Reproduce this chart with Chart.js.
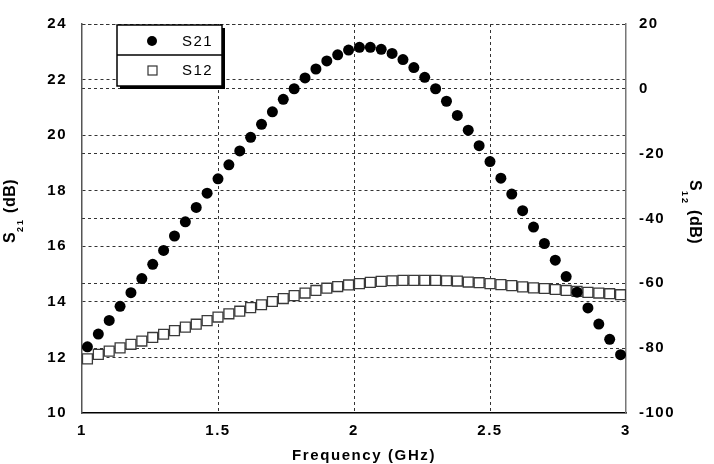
<!DOCTYPE html>
<html><head><meta charset="utf-8">
<script src="https://cdn.jsdelivr.net/npm/chart.js@4/dist/chart.umd.min.js"></script>
<style>html,body{margin:0;padding:0;background:#fff}#wrap{width:714px;height:464px;position:relative}</style>
</head><body><div id="wrap"><canvas id="c" width="714" height="464"></canvas></div>
<script>
const freq = [1.02,1.06,1.10,1.14,1.18,1.22,1.26,1.30,1.34,1.38,1.42,1.46,1.50,1.54,1.58,1.62,1.66,1.70,1.74,1.78,1.82,1.86,1.90,1.94,1.98,2.02,2.06,2.10,2.14,2.18,2.22,2.26,2.30,2.34,2.38,2.42,2.46,2.50,2.54,2.58,2.62,2.66,2.70,2.74,2.78,2.82,2.86,2.90,2.94,2.98];
const s21 = [12.38,12.84,13.33,13.84,14.33,14.84,15.35,15.85,16.37,16.88,17.40,17.91,18.43,18.93,19.43,19.92,20.39,20.84,21.29,21.67,22.06,22.38,22.67,22.89,23.06,23.16,23.16,23.09,22.94,22.72,22.43,22.08,21.67,21.22,20.71,20.18,19.62,19.05,18.45,17.88,17.28,16.69,16.10,15.50,14.91,14.35,13.78,13.20,12.65,12.10];
const s12 = [-83.3,-81.9,-80.9,-79.9,-78.8,-77.8,-76.7,-75.7,-74.6,-73.5,-72.6,-71.5,-70.4,-69.4,-68.6,-67.5,-66.6,-65.6,-64.7,-63.8,-63.0,-62.2,-61.5,-61.0,-60.5,-60.1,-59.7,-59.4,-59.2,-59.1,-59.1,-59.1,-59.1,-59.2,-59.3,-59.6,-59.8,-60.1,-60.4,-60.7,-61.1,-61.4,-61.6,-61.9,-62.2,-62.5,-62.8,-63.0,-63.2,-63.5];
const xTicks = [1,1.5,2,2.5,3];
const xTickLabels = ['1','1.5','2','2.5','3'];
const yTicks = [10,12,14,16,18,20,22,24];
const y2Ticks = [-100,-80,-60,-40,-20,0,20];
const seriesNames = ['S21','S12'];

const FONT = "'Liberation Sans', Arial, sans-serif";
const gridColor = (first,last)=>ctx=>{
  const i = ctx.index, n = ctx.scale.ticks.length;
  if ((first && i===0) || (last && i===n-1)) return 'rgba(0,0,0,0)';
  return '#333';
};

const spacingPlugin = {
  id:'spacing',
  beforeLayout(chart){ chart.ctx.letterSpacing='1.5px'; },
  beforeDraw(chart){ chart.ctx.letterSpacing='1.5px'; },
  beforeDatasetsDraw(chart){ chart.ctx.letterSpacing='0px'; },
  afterDatasetsDraw(chart){ chart.ctx.letterSpacing='1.5px'; }
};

function drawSubTitle(ctx, main, sub, rest, cx, cy, angle, baseOff){
  ctx.save();
  ctx.translate(cx, cy);
  ctx.rotate(angle);
  ctx.fillStyle='#000';
  ctx.textBaseline='alphabetic';
  ctx.textAlign='left';
  ctx.letterSpacing='0.5px';
  const f1 = "bold 16px "+FONT, f2 = "bold 9px "+FONT;
  ctx.font=f1; const w1 = ctx.measureText(main).width;
  ctx.letterSpacing='2px';
  ctx.font=f2; const w2 = ctx.measureText(sub).width;
  ctx.letterSpacing='0.5px';
  ctx.font=f1; const w3 = ctx.measureText(rest).width;
  let x = -(w1+w2+w3)/2;
  ctx.font=f1; ctx.fillText(main, x, 0); x+=w1;
  ctx.letterSpacing='2px';
  ctx.font=f2; ctx.fillText(sub, x, baseOff); x+=w2;
  ctx.letterSpacing='0.5px';
  ctx.font=f1; ctx.fillText(rest, x, 0);
  ctx.restore();
}

const decoPlugin = {
  id:'deco',
  afterDraw(chart){
    const ctx = chart.ctx;
    // axis titles
    drawSubTitle(ctx,'S','21',' (dB)', 15, 211, -Math.PI/2, 8);
    drawSubTitle(ctx,'S','12',' (dB)', 690, 212, Math.PI/2, 8);
    ctx.save();
    ctx.font = "bold 15px "+FONT;
    ctx.letterSpacing='1.6px';
    ctx.fillStyle='#000';
    ctx.textAlign='center';
    ctx.textBaseline='alphabetic';
    ctx.fillText('Frequency (GHz)', 364, 460);
    ctx.restore();
    // legend box
    const L=117, T=25, W=105, H=61, mid=55;
    ctx.save();
    ctx.letterSpacing='0px';
    ctx.fillStyle='#000';
    ctx.fillRect(L+3, T+3, W, H);
    ctx.fillStyle='#fff';
    ctx.fillRect(L, T, W, H);
    ctx.strokeStyle='#000'; ctx.lineWidth=1.5;
    ctx.strokeRect(L, T, W, H);
    ctx.beginPath(); ctx.moveTo(L, mid); ctx.lineTo(L+W, mid); ctx.stroke();
    const ds = chart.data.datasets;
    // marker 1
    ctx.beginPath(); ctx.arc(152, 41, 5, 0, Math.PI*2); ctx.fillStyle='#000'; ctx.fill();
    // marker 2
    ctx.strokeStyle='#333'; ctx.lineWidth=1.2; ctx.fillStyle='#fff';
    ctx.fillRect(148, 66, 9, 9); ctx.strokeRect(148, 66, 9, 9);
    ctx.fillStyle='#000';
    ctx.font = "15px "+FONT;
    ctx.letterSpacing='1.5px';
    ctx.textAlign='left'; ctx.textBaseline='middle';
    ctx.fillText(ds[0].label, 182, 42);
    ctx.fillText(ds[1].label, 182, 71);
    ctx.restore();
  }
};

new Chart(document.getElementById('c'), {
  type:'scatter',
  data:{
    datasets:[
      {label:seriesNames[0], data:freq.map((f,i)=>({x:f,y:s21[i]})), yAxisID:'y',
       pointStyle:'circle', pointRadius:5.5, pointBackgroundColor:'#000', pointBorderColor:'#000', pointBorderWidth:0, showLine:false, order:1},
      {label:seriesNames[1], data:freq.map((f,i)=>({x:f,y:s12[i]})), yAxisID:'y2',
       pointStyle:'rect', pointRadius:7, pointBackgroundColor:'#fff', pointBorderColor:'#3a3a3a', pointBorderWidth:1.3, showLine:false, order:2}
    ]
  },
  options:{
    responsive:false, animation:false, devicePixelRatio:1,
    layout:{padding:{top:13,left:0,right:0,bottom:0}},
    plugins:{legend:{display:false}, tooltip:{enabled:false}, title:{display:false}},
    scales:{
      x:{type:'linear', min:1, max:3, position:'bottom',
         afterBuildTicks:s=>{s.ticks=xTicks.map(v=>({value:v}));},
         afterFit:s=>{s.height=51;},
         ticks:{callback:(v)=>xTickLabels[xTicks.indexOf(v)] ?? '', font:{family:FONT,size:15,weight:'bold'}, color:'#000', padding:9, maxRotation:0},
         grid:{color:gridColor(true,true), lineWidth:1, drawTicks:false},
         border:{display:true, color:'#000', width:1.5, dash:[3,3]}},
      y:{type:'linear', min:10, max:24, position:'left',
         afterBuildTicks:s=>{s.ticks=yTicks.map(v=>({value:v}));},
         afterFit:s=>{s.width=82;},
         ticks:{font:{family:FONT,size:15,weight:'bold'}, color:'#000', padding:15},
         grid:{color:gridColor(true,false), lineWidth:1, drawTicks:false},
         border:{display:true, color:'#555', width:1.5, dash:[3,3]}},
      y2:{type:'linear', min:-100, max:20, position:'right',
         afterBuildTicks:s=>{s.ticks=y2Ticks.map(v=>({value:v}));},
         afterFit:s=>{s.width=88;},
         ticks:{font:{family:FONT,size:15,weight:'bold'}, color:'#000', padding:13},
         grid:{color:gridColor(true,false), lineWidth:1, drawTicks:false},
         border:{display:true, color:'#777', width:1.5, dash:[3,3]}}
    }
  },
  plugins:[spacingPlugin, decoPlugin]
});
</script></body></html>
